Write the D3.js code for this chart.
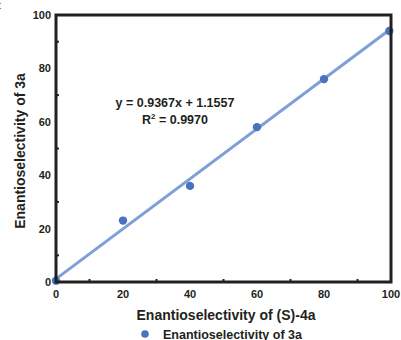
<!DOCTYPE html>
<html>
<head>
<meta charset="utf-8">
<script src="https://cdn.jsdelivr.net/npm/d3@7"></script>
<style>
  body { margin: 0; background: #fff; }
  text { font-family: "Liberation Sans", Arial, sans-serif; fill: #231f20; }
</style>
</head>
<body>
<svg id="chart" width="401" height="340"></svg>
<script>
// Data
const xValues = [0, 20, 40, 60, 80, 99.5];
const yValues = [0.5, 23, 36, 58, 76, 94];
const majorTicks = [0, 20, 40, 60, 80, 100];
const minorTicks = [10, 30, 50, 70, 90];
const slope = 0.9367;
const intercept = 1.1557;
const fitLabel = 'y = 0.9367x + 1.1557';
const r2Value = '0.9970';
const seriesName = 'Enantioselectivity of 3a';

const svg = d3.select('#chart');
const margin = { left: 56, right: 10, top: 15, bottom: 58 };
const width = 401, height = 340;

const x = d3.scaleLinear().domain([0, 100]).range([margin.left, width - margin.right]);
const y = d3.scaleLinear().domain([0, 100]).range([height - margin.bottom, margin.top]);

const ink = '#231f20';

// clipped letter at top-left corner (partly outside in the source too)
svg.append('text').attr('x', -2).attr('y', 9).style('font-size', '10px').text('t');

// fit line
svg.append('line')
  .attr('x1', x(0)).attr('y1', y(intercept))
  .attr('x2', x(100)).attr('y2', y(slope * 100 + intercept))
  .attr('stroke', '#7f9fd8').attr('stroke-width', 3);

// points
svg.selectAll('.pt')
  .data(xValues.map((v, i) => [v, yValues[i]]))
  .join('circle')
  .attr('class', 'pt')
  .attr('cx', d => x(d[0]))
  .attr('cy', d => y(d[1]))
  .attr('r', 4.2)
  .attr('fill', '#4a72c0');

// frame
svg.append('rect')
  .attr('x', x(0)).attr('y', y(100))
  .attr('width', x(100) - x(0)).attr('height', y(0) - y(100))
  .attr('fill', 'none').attr('stroke', ink).attr('stroke-width', 3);

// minor ticks (inside)
svg.selectAll('.xminor').data(minorTicks).join('line')
  .attr('x1', d => x(d)).attr('x2', d => x(d))
  .attr('y1', y(0)).attr('y2', y(0) - 3)
  .attr('stroke', ink).attr('stroke-width', 2);
svg.selectAll('.yminor').data(minorTicks).join('line')
  .attr('y1', d => y(d)).attr('y2', d => y(d))
  .attr('x1', x(0)).attr('x2', x(0) + 3)
  .attr('stroke', ink).attr('stroke-width', 2);

// tick labels
svg.selectAll('.xlab').data(majorTicks).join('text')
  .attr('x', d => x(d)).attr('y', y(0) + 16)
  .attr('text-anchor', 'middle')
  .style('font-size', '11px').style('font-weight', 'bold')
  .text(d => d);
svg.selectAll('.ylab').data(majorTicks).join('text')
  .attr('x', x(0) - 5).attr('y', d => y(d) + 4)
  .attr('text-anchor', 'end')
  .style('font-size', '11px').style('font-weight', 'bold')
  .text(d => d);

// axis titles
svg.append('text')
  .attr('x', 226).attr('y', 320)
  .attr('text-anchor', 'middle')
  .style('font-size', '14px').style('font-weight', 'bold')
  .text('Enantioselectivity of (S)-4a');
svg.append('text')
  .attr('transform', 'translate(25,151) rotate(-90)')
  .attr('text-anchor', 'middle')
  .style('font-size', '14px').style('font-weight', 'bold')
  .text('Enantioselectivity of 3a');

// equation
svg.append('text')
  .attr('x', 175).attr('y', 107)
  .attr('text-anchor', 'middle')
  .style('font-size', '12.5px').style('font-weight', 'bold')
  .text(fitLabel);
const r2 = svg.append('text')
  .attr('x', 175).attr('y', 124)
  .attr('text-anchor', 'middle')
  .style('font-size', '12.5px').style('font-weight', 'bold');
r2.append('tspan').text('R');
r2.append('tspan').attr('dy', -5).style('font-size', '8px').text('2');
r2.append('tspan').attr('dy', 5).text(' = ' + r2Value);

// legend
svg.append('circle').attr('cx', 145).attr('cy', 334).attr('r', 3.8).attr('fill', '#4a72c0');
svg.append('text')
  .attr('x', 163).attr('y', 338.5)
  .style('font-size', '12.5px').style('font-weight', 'bold')
  .text(seriesName);
</script>
</body>
</html>
